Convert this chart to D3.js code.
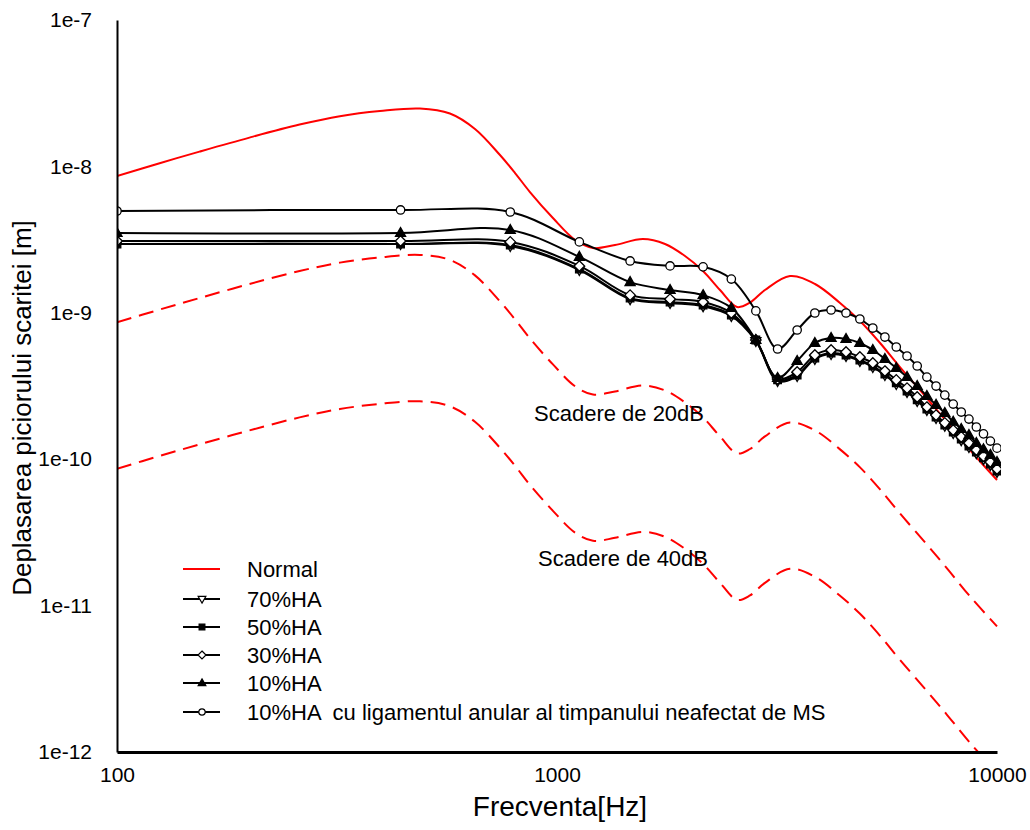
<!DOCTYPE html>
<html>
<head>
<meta charset="utf-8">
<script src="https://cdn.jsdelivr.net/npm/d3@7"></script>
<style>
  html, body { margin: 0; padding: 0; background: #fff; }
  svg { display: block; font-family: "Liberation Sans", Arial, sans-serif; }
  text { white-space: pre; }
</style>
</head>
<body>
<svg id="chart" width="1030" height="830"></svg>
<script>
// ---------------- data ----------------
const xTickValues = [100, 1000, 10000];
const xTickLabels = ["100", "1000", "10000"];
const yTickValues = [1e-12, 1e-11, 1e-10, 1e-9, 1e-8, 1e-7];
const yTickLabels = ["1e-12", "1e-11", "1e-10", "1e-9", "1e-8", "1e-7"];

const normalFreqs = [100,125,154,200,260,321,396,488,571,651,742,803,868,979,1100,1207,1355,1568,1760,1954,2147,2347,2566,2746,2969,3384,3858,4398,4883,5423,6018,6862,7697,8682,10000];
const normal = [8.60e-9,1.052e-8,1.262e-8,1.573e-8,1.930e-8,2.202e-8,2.389e-8,2.486e-8,2.298e-8,1.801e-8,1.196e-8,9.01e-9,6.68e-9,4.44e-9,3.143e-9,2.77e-9,2.904e-9,3.19e-9,2.95e-9,2.443e-9,1.930e-9,1.431e-9,1.095e-9,1.174e-9,1.431e-9,1.784e-9,1.573e-9,1.167e-9,8.79e-10,6.22e-10,4.26e-10,2.70e-10,1.796e-10,1.156e-10,7.21e-11];
const drop20 = [8.60e-10,1.052e-9,1.262e-9,1.573e-9,1.930e-9,2.202e-9,2.389e-9,2.486e-9,2.298e-9,1.801e-9,1.196e-9,9.01e-10,6.68e-10,4.44e-10,3.143e-10,2.77e-10,2.904e-10,3.19e-10,2.95e-10,2.443e-10,1.930e-10,1.431e-10,1.095e-10,1.174e-10,1.431e-10,1.784e-10,1.573e-10,1.167e-10,8.79e-11,6.22e-11,4.26e-11,2.70e-11,1.796e-11,1.156e-11,7.21e-12];
const drop40 = [8.60e-11,1.052e-10,1.262e-10,1.573e-10,1.930e-10,2.202e-10,2.389e-10,2.486e-10,2.298e-10,1.801e-10,1.196e-10,9.01e-11,6.68e-11,4.44e-11,3.143e-11,2.77e-11,2.904e-11,3.19e-11,2.95e-11,2.443e-11,1.930e-11,1.431e-11,1.095e-11,1.174e-11,1.431e-11,1.784e-11,1.573e-11,1.167e-11,8.79e-12,6.22e-12,4.26e-12,2.70e-12,1.796e-12,1.156e-12,7.21e-13];

const freqs = [100,441,783,1124,1466,1807,2148,2490,2831,3172,3514,3855,4197,4538,4879,5221,5562,5903,6245,6586,6928,7269,7610,7952,8293,8634,8976,9317,9659,10000];
const ha70 = [2.95e-9,2.95e-9,2.86e-9,1.96e-9,1.24e-9,1.167e-9,1.11e-9,9.51e-10,6.42e-10,3.42e-10,3.70e-10,4.84e-10,5.23e-10,5.07e-10,4.69e-10,4.26e-10,3.76e-10,3.26e-10,2.88e-10,2.50e-10,2.17e-10,1.91e-10,1.69e-10,1.51e-10,1.35e-10,1.21e-10,1.10e-10,1.00e-10,9.13e-11,8.18e-11];
const ha50 = [2.95e-9,2.95e-9,2.90e-9,1.99e-9,1.26e-9,1.185e-9,1.13e-9,9.66e-10,6.52e-10,3.48e-10,3.76e-10,4.91e-10,5.31e-10,5.15e-10,4.76e-10,4.33e-10,3.82e-10,3.32e-10,2.92e-10,2.54e-10,2.20e-10,1.94e-10,1.71e-10,1.53e-10,1.37e-10,1.23e-10,1.12e-10,1.02e-10,9.27e-11,8.31e-11];
const ha30 = [3.09e-9,3.09e-9,3.05e-9,2.09e-9,1.32e-9,1.24e-9,1.185e-9,9.97e-10,6.52e-10,3.53e-10,3.94e-10,5.15e-10,5.57e-10,5.40e-10,4.99e-10,4.54e-10,4.00e-10,3.48e-10,3.06e-10,2.66e-10,2.27e-10,2.00e-10,1.77e-10,1.58e-10,1.42e-10,1.29e-10,1.156e-10,1.05e-10,9.57e-11,8.57e-11];
const ha10 = [3.51e-9,3.51e-9,3.68e-9,2.41e-9,1.62e-9,1.43e-9,1.32e-9,1.08e-9,6.52e-10,3.59e-10,4.69e-10,6.22e-10,6.73e-10,6.62e-10,6.22e-10,5.57e-10,4.84e-10,4.20e-10,3.64e-10,3.16e-10,2.70e-10,2.35e-10,2.07e-10,1.80e-10,1.61e-10,1.46e-10,1.29e-10,1.17e-10,1.07e-10,9.57e-11];
const ha10lig = [4.96e-9,5.04e-9,4.88e-9,3.05e-9,2.26e-9,2.09e-9,2.06e-9,1.70e-9,1.03e-9,5.66e-10,7.63e-10,9.97e-10,1.045e-9,9.97e-10,9.07e-10,7.87e-10,6.83e-10,5.84e-10,5.07e-10,4.33e-10,3.64e-10,3.16e-10,2.74e-10,2.38e-10,2.10e-10,1.88e-10,1.66e-10,1.49e-10,1.33e-10,1.19e-10];

const legendLabels = ["Normal", "70%HA", "50%HA", "30%HA", "10%HA", "10%HA  cu ligamentul anular al timpanului neafectat de MS"];
const annotations = ["Scadere de 20dB", "Scadere de 40dB"];
const xTitle = "Frecventa[Hz]";
const yTitle = "Deplasarea piciorului scaritei [m]";

// ---------------- chart ----------------
const svg = d3.select("#chart");
const L = 117, R = 997, T = 20, B = 752;
const x = d3.scaleLog().domain([100, 10000]).range([L, R]);
const y = d3.scaleLog().domain([1e-12, 1e-7]).range([B, T]);

svg.append("defs").append("clipPath").attr("id", "plotclip")
  .append("rect").attr("x", L).attr("y", T).attr("width", R - L + 4).attr("height", B - T);

const plot = svg.append("g").attr("clip-path", "url(#plotclip)");
const curve = d3.curveCatmullRom.alpha(0.5);

function lineOf(fs, vs) {
  return d3.line().curve(curve).x((d, i) => x(fs[i])).y(d => y(d))(vs);
}

// red curves
[[drop40, "15,8"], [drop20, "15,8"], [normal, null]].forEach(([vals, dash]) => {
  plot.append("path")
    .attr("d", lineOf(normalFreqs, vals))
    .attr("fill", "none").attr("stroke", "#ff0000").attr("stroke-width", 2)
    .attr("stroke-dasharray", dash);
});

// marker shapes
function markerPath(type, s) {
  switch (type) {
    case "circle": return d3.symbol(d3.symbolCircle, Math.PI * s * s)();
    case "diamond": return `M0,${-s*1.25}L${s*1.25},0L0,${s*1.25}L${-s*1.25},0Z`;
    case "square": return `M${-s*0.9},${-s*0.9}H${s*0.9}V${s*0.9}H${-s*0.9}Z`;
    case "triUp": return `M0,${-s*1.3}L${s*1.2},${s*0.8}L${-s*1.2},${s*0.8}Z`;
    case "triDown": return `M0,${s*1.3}L${s*1.2},${-s*0.8}L${-s*1.2},${-s*0.8}Z`;
  }
}

const series = [
  { vals: ha70, shape: "triDown", fill: "#fff" },
  { vals: ha50, shape: "square", fill: "#000" },
  { vals: ha30, shape: "diamond", fill: "#fff" },
  { vals: ha10, shape: "triUp", fill: "#000" },
  { vals: ha10lig, shape: "circle", fill: "#fff" }
];

series.forEach(s => {
  plot.append("path")
    .attr("d", lineOf(freqs, s.vals))
    .attr("fill", "none").attr("stroke", "#000").attr("stroke-width", 2);
});
series.forEach(s => {
  plot.append("g").selectAll("path").data(s.vals).join("path")
    .attr("transform", (d, i) => `translate(${x(freqs[i])},${y(d)})`)
    .attr("d", markerPath(s.shape, 4.2))
    .attr("fill", s.fill).attr("stroke", "#000").attr("stroke-width", 1.3);
});

// axes
const yAxis = d3.axisLeft(y).tickValues(yTickValues)
  .tickFormat((d, i) => yTickLabels[i]).tickSize(0).tickPadding(25);
const gy = svg.append("g").attr("transform", `translate(${L},0)`).call(yAxis);
gy.select(".domain").attr("stroke", "#000").attr("stroke-width", 2);
gy.selectAll("text").attr("font-size", 21).attr("fill", "#000")
  .attr("font-family", '"Liberation Sans", Arial, sans-serif');

const xAxis = d3.axisBottom(x).tickValues(xTickValues)
  .tickFormat((d, i) => xTickLabels[i]).tickSize(0).tickPadding(15);
const gx = svg.append("g").attr("transform", `translate(0,${B})`).call(xAxis);
gx.select(".domain").attr("stroke", "#000").attr("stroke-width", 3);
gx.selectAll("text").attr("font-size", 21).attr("fill", "#000")
  .attr("font-family", '"Liberation Sans", Arial, sans-serif');

// titles
svg.append("text").attr("x", 560).attr("y", 816).attr("text-anchor", "middle")
  .attr("font-size", 28).text(xTitle);
svg.append("text").attr("transform", "translate(31,408) rotate(-90)")
  .attr("text-anchor", "middle").attr("font-size", 26).text(yTitle);

// annotations
svg.append("text").attr("x", 534).attr("y", 421).attr("font-size", 22).text(annotations[0]);
svg.append("text").attr("x", 538).attr("y", 566).attr("font-size", 22).text(annotations[1]);

// legend
const legRows = [569, 599, 627, 655, 683, 712];
const legItems = [
  { color: "#ff0000", shape: null },
  { color: "#000", shape: "triDown", fill: "#fff" },
  { color: "#000", shape: "square", fill: "#000" },
  { color: "#000", shape: "diamond", fill: "#fff" },
  { color: "#000", shape: "triUp", fill: "#000" },
  { color: "#000", shape: "circle", fill: "#fff" }
];
legItems.forEach((it, i) => {
  const g = svg.append("g").attr("transform", `translate(0,${legRows[i]})`);
  g.append("line").attr("x1", 183).attr("x2", 220).attr("y1", 0).attr("y2", 0)
    .attr("stroke", it.color).attr("stroke-width", 2);
  if (it.shape) {
    g.append("path").attr("transform", "translate(202,0)")
      .attr("d", markerPath(it.shape, 3.2))
      .attr("fill", it.fill).attr("stroke", "#000").attr("stroke-width", 1.2);
  }
  g.append("text").attr("x", 247).attr("y", 0).attr("dy", "0.35em")
    .attr("font-size", 22).text(legendLabels[i]);
});
</script>
</body>
</html>
